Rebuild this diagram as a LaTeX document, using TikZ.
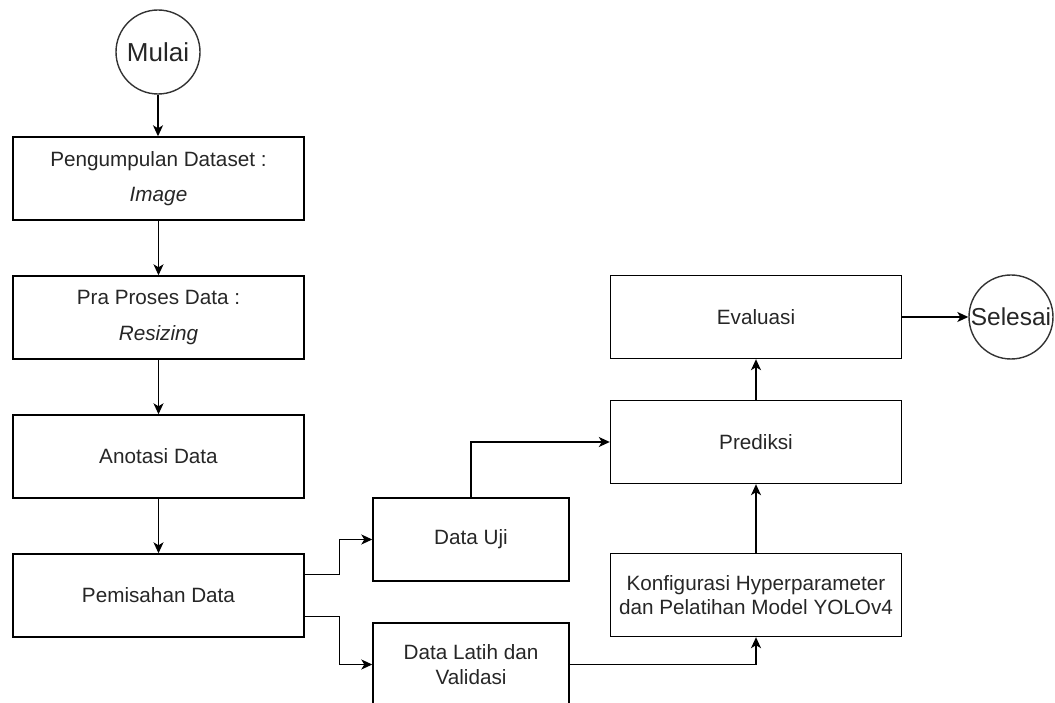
\documentclass[tikz,border=0pt]{standalone}
\usepackage{fontspec}
\setmainfont{Liberation Sans}
\usetikzlibrary{arrows.meta}

\begin{document}
\begin{tikzpicture}[->,>={Stealth[length=11pt,width=10pt,inset=3pt]},x=1pt,y=1pt,
                    line width=1.4pt,node distance=139pt]
  \tikzstyle{every node}=[font=\fontsize{20.7}{24.5}\selectfont,text=black!85]
  \tikzstyle{proses}=[draw=black,rectangle,minimum width=291pt,minimum height=83pt,align=center,inner sep=0pt]
  \tikzstyle{terminal}=[draw=black!80,circle,minimum size=84pt,inner sep=0pt]
\useasboundingbox (0,0) rectangle (1055,702);
\node [terminal,font=\fontsize{26}{30}\selectfont] (0) at (158,650) {Mulai};
\node [proses] (1) at (158.5,523.5) {Pengumpulan Dataset :\\[11pt]\textit{Image}};
\node [proses] [below of=1] (2) {Pra Proses Data :\\[11pt]\textit{Resizing}};
\node [proses] [below of=2] (3) {Anotasi Data};
\node [proses] [below of=3] (4) {Pemisahan Data};
\node [proses,minimum width=196pt] (5) at (471,162.5) {Data Uji};
\node [proses,minimum width=196pt] (6) at (471,37.5) {Data Latih dan\\Validasi};
\node [proses] (7) at (756,107) {Konfigurasi Hyperparameter\\dan Pelatihan Model YOLOv4};
\node [proses] (8) at (756,260) {Prediksi};
\node [proses] (9) at (756,385) {Evaluasi};
\node [terminal,font=\fontsize{24.5}{28}\selectfont] (10) at (1011,385) {Selesai};

\draw (0) -- (0 |- 1.north);
\draw (1) -- (2);
\draw (2) -- (3);
\draw (3) -- (4);
\draw ([yshift=21pt]4.east) -- ++(35,0) |- (5.west);
\draw ([yshift=-21pt]4.east) -- ++(35,0) |- (6.west);
\draw (5.north) |- (8.west);
\draw (6.east) -| (7.south);
\draw (7) -- (8);
\draw (8) -- (9);
\draw (9) -- (10);
\end{tikzpicture}
\end{document}
